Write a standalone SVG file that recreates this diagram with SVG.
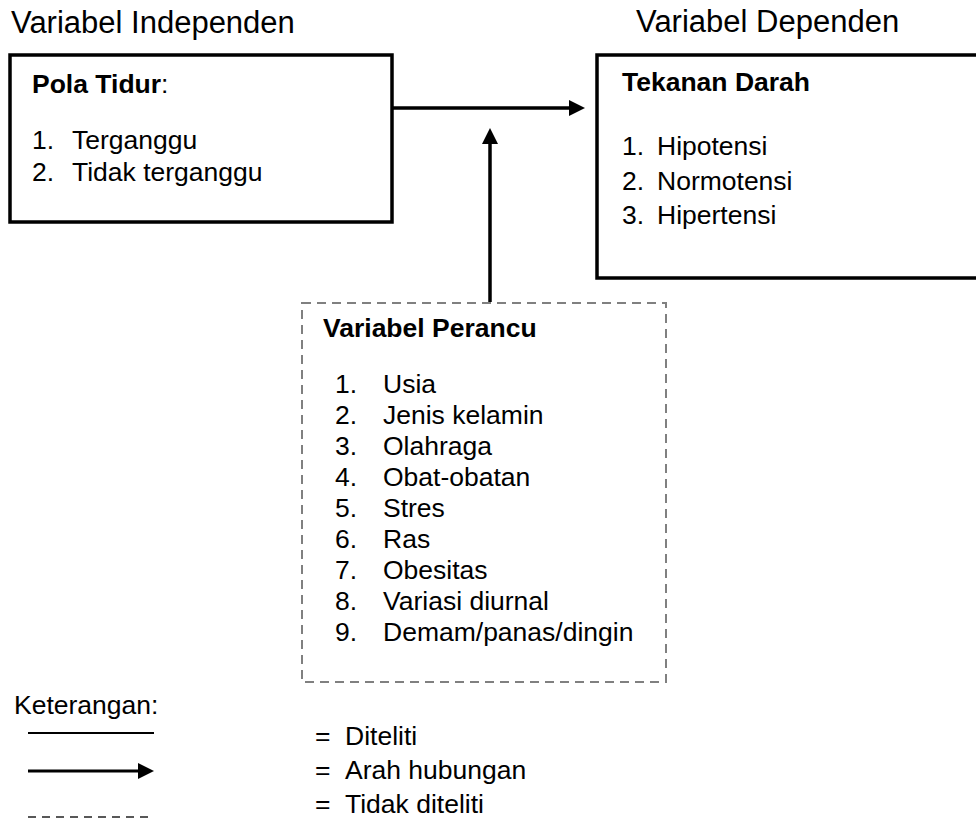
<svg xmlns="http://www.w3.org/2000/svg" width="976" height="821" viewBox="0 0 976 821">
  <style>
    text { font-family: "Liberation Sans", Arial, sans-serif; fill: #000; }
    .title { font-size: 31px; }
    .body { font-size: 26.5px; }
    .bold { font-weight: bold; }
    .box { fill: #fff; stroke: #000; stroke-width: 3.5; }
    .dbox { fill: #fff; stroke: #808080; stroke-width: 2; stroke-dasharray: 9 6; }
    .conn { stroke: #000; stroke-width: 3.5; fill: none; }
  </style>
  <defs>
    <marker id="ah" markerUnits="userSpaceOnUse" markerWidth="17" markerHeight="17" refX="1" refY="8" orient="auto">
      <path d="M0,0 L16,8 L0,16 Z" fill="#000"/>
    </marker>
  </defs>

  <text class="title" x="11" y="33">Variabel Independen</text>
  <text class="title" x="636" y="32">Variabel Dependen</text>

  <g id="pola-tidur">
    <rect class="box" x="10" y="55" width="382" height="167"/>
    <text class="body" x="32" y="93"><tspan class="bold">Pola Tidur</tspan>:</text>
    <text class="body" x="32" y="149">1.</text>
    <text class="body" x="72" y="149">Terganggu</text>
    <text class="body" x="32" y="181">2.</text>
    <text class="body" x="72" y="181">Tidak terganggu</text>
  </g>

  <g id="tekanan-darah">
    <rect class="box" x="597" y="55" width="400" height="223"/>
    <text class="body bold" x="622" y="91">Tekanan Darah</text>
    <text class="body" x="622" y="155">1.</text>
    <text class="body" x="657" y="155">Hipotensi</text>
    <text class="body" x="622" y="190">2.</text>
    <text class="body" x="657" y="190">Normotensi</text>
    <text class="body" x="622" y="224">3.</text>
    <text class="body" x="657" y="224">Hipertensi</text>
  </g>

  <g id="variabel-perancu">
    <rect class="dbox" x="302" y="303" width="364" height="379"/>
    <text class="body bold" x="323" y="337">Variabel Perancu</text>
    <text class="body" x="335" y="393">1.</text><text class="body" x="383" y="393">Usia</text>
    <text class="body" x="335" y="424">2.</text><text class="body" x="383" y="424">Jenis kelamin</text>
    <text class="body" x="335" y="455">3.</text><text class="body" x="383" y="455">Olahraga</text>
    <text class="body" x="335" y="486">4.</text><text class="body" x="383" y="486">Obat-obatan</text>
    <text class="body" x="335" y="517">5.</text><text class="body" x="383" y="517">Stres</text>
    <text class="body" x="335" y="548">6.</text><text class="body" x="383" y="548">Ras</text>
    <text class="body" x="335" y="579">7.</text><text class="body" x="383" y="579">Obesitas</text>
    <text class="body" x="335" y="610">8.</text><text class="body" x="383" y="610">Variasi diurnal</text>
    <text class="body" x="335" y="641">9.</text><text class="body" x="383" y="641">Demam/panas/dingin</text>
  </g>

  <g id="connectors">
    <line class="conn" x1="392" y1="108" x2="570" y2="108" marker-end="url(#ah)"/>
    <line class="conn" x1="490" y1="302" x2="490" y2="143" marker-end="url(#ah)"/>
  </g>

  <g id="legend">
    <text class="body" x="14" y="714">Keterangan:</text>
    <line x1="28" y1="733" x2="154" y2="733" stroke="#000" stroke-width="1.8"/>
    <line x1="28" y1="771" x2="139" y2="771" stroke="#000" stroke-width="2.8" marker-end="url(#ah)"/>
    <line x1="28" y1="817" x2="150" y2="817" stroke="#222" stroke-width="1.5" stroke-dasharray="8 6"/>
    <text class="body" x="315" y="745">=</text><text class="body" x="345" y="745">Diteliti</text>
    <text class="body" x="315" y="779">=</text><text class="body" x="345" y="779">Arah hubungan</text>
    <text class="body" x="315" y="813">=</text><text class="body" x="345" y="813">Tidak diteliti</text>
  </g>
</svg>
